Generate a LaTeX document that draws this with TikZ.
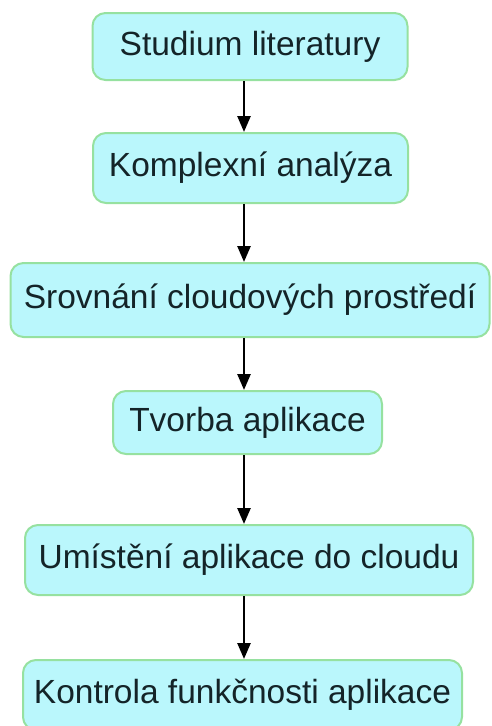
\documentclass[tikz,border=0pt]{standalone}
\usepackage{fontspec}
\setmainfont{Liberation Sans}
\usetikzlibrary{arrows.meta}
\definecolor{boxfill}{RGB}{186,247,252}
\definecolor{boxedge}{RGB}{150,225,160}
\definecolor{boxtext}{RGB}{20,36,40}
\tikzset{
  stepbox/.style={draw=boxedge, fill=boxfill, line width=2pt, rounded corners=13pt,
    text=boxtext, font=\fontsize{33.5}{36}\selectfont, inner sep=0pt, anchor=center},
  flowarrow/.style={line width=2.6pt, -{Triangle[width=13pt,length=16pt]}}
}
\begin{document}
\begin{tikzpicture}[x=1pt,y=1pt]
  \useasboundingbox (0,0) rectangle (491,-726);
  \node[stepbox, minimum width=315, minimum height=67] (b1) at (250,-46.5) {Studium literatury};
  \node[stepbox, minimum width=315, minimum height=70] (b2) at (250.5,-168) {Komplexní analýza};
  \node[stepbox, minimum width=479, minimum height=74] (b3) at (250,-300) {Srovnání cloudových prostředí};
  \node[stepbox, minimum width=269, minimum height=63] (b4) at (247.5,-422.5) {Tvorba aplikace};
  \node[stepbox, minimum width=448, minimum height=70] (b5) at (249,-560) {Umístění aplikace do cloudu};
  \node[stepbox, minimum width=439, minimum height=70] (b6) at (242.5,-695) {Kontrola funkčnosti aplikace};
  \coordinate (ax) at (244,0);
  \draw[flowarrow] (b1.south -| ax) -- (b2.north -| ax);
  \draw[flowarrow] (b2.south -| ax) -- (b3.north -| ax);
  \draw[flowarrow] (b3.south -| ax) -- (b4.north -| ax);
  \draw[flowarrow] (b4.south -| ax) -- (b5.north -| ax);
  \draw[flowarrow] (b5.south -| ax) -- (b6.north -| ax);
\end{tikzpicture}
\end{document}
